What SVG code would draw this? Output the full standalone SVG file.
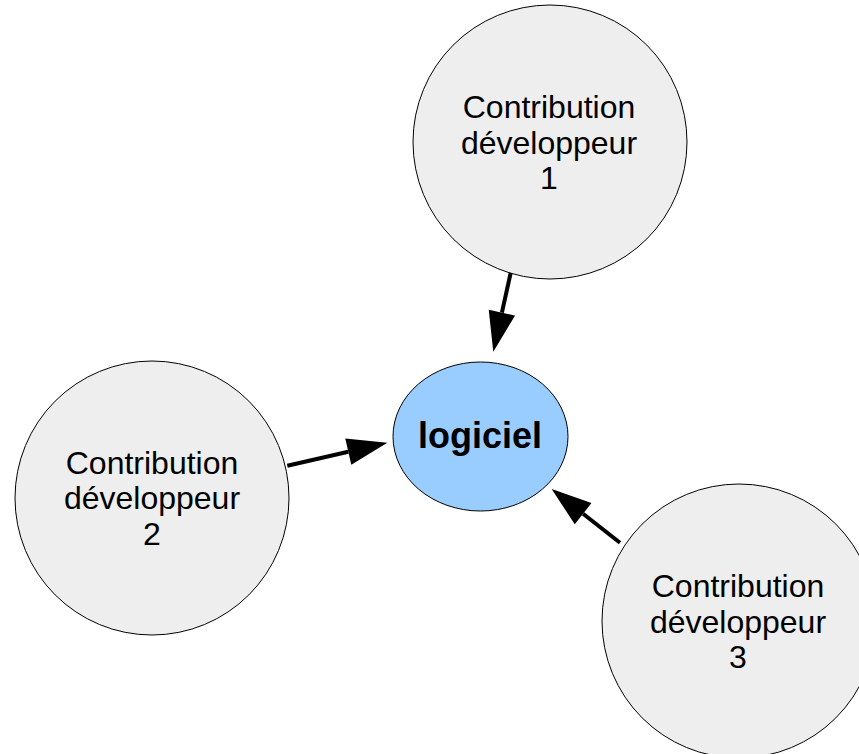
<svg xmlns="http://www.w3.org/2000/svg" width="859" height="754" viewBox="0 0 859 754">
  <style>
    .contrib { fill: #eeeeee; stroke: #000000; stroke-width: 1; }
    .core { fill: #99ccff; stroke: #000000; stroke-width: 1; }
    .label { font-family: "Liberation Sans", Arial, sans-serif; font-size: 32px; fill: #000000; text-anchor: middle; }
    .core-label { font-family: "Liberation Sans", Arial, sans-serif; font-size: 36px; font-weight: bold; fill: #000000; text-anchor: middle; }
    .edge { stroke: #000000; stroke-width: 4; fill: none; marker-end: url(#head); }
  </style>
  <defs>
    <marker id="head" markerUnits="userSpaceOnUse" markerWidth="40" markerHeight="27" refX="0" refY="13.5" orient="auto" overflow="visible">
      <path d="M0,0 L40,13.5 L0,27 Z" fill="#000000"/>
    </marker>
  </defs>
  <rect width="859" height="754" fill="#ffffff"/>

  <g id="dev1">
    <circle class="contrib" cx="550" cy="142" r="137"/>
    <text class="label" x="549" y="118">Contribution</text>
    <text class="label" x="549" y="153.5">développeur</text>
    <text class="label" x="549" y="189">1</text>
  </g>

  <g id="dev2">
    <circle class="contrib" cx="152" cy="498" r="137"/>
    <text class="label" x="152" y="473.5">Contribution</text>
    <text class="label" x="152" y="509">développeur</text>
    <text class="label" x="152" y="544.5">2</text>
  </g>

  <g id="dev3">
    <circle class="contrib" cx="739" cy="621" r="137"/>
    <text class="label" x="738" y="597">Contribution</text>
    <text class="label" x="738" y="632.5">développeur</text>
    <text class="label" x="738" y="668">3</text>
  </g>

  <g id="logiciel">
    <ellipse class="core" cx="480.5" cy="436.5" rx="87.5" ry="74.5"/>
    <text class="core-label" x="480" y="448">logiciel</text>
  </g>

  <g id="connectors">
    <line class="edge" x1="510.7" y1="272.7" x2="501.9" y2="312.6"/>
    <line class="edge" x1="287.3" y1="465.7" x2="348.3" y2="451.7"/>
    <line class="edge" x1="620" y1="542.7" x2="583.1" y2="513.7"/>
  </g>
</svg>
